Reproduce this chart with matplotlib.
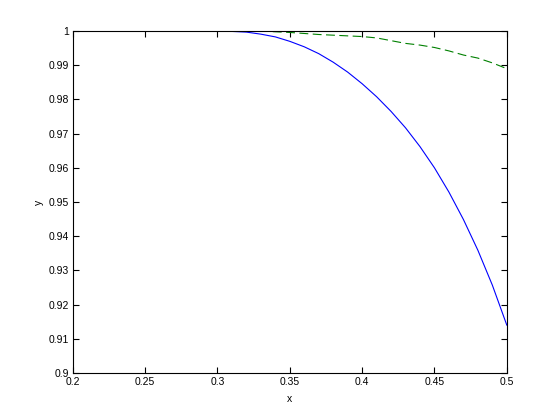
import matplotlib
matplotlib.use('Agg')
import matplotlib.pyplot as plt

# x grid and the two curves
x = [0.20, 0.21, 0.22, 0.23, 0.24, 0.25, 0.26, 0.27, 0.28, 0.29,
     0.30, 0.31, 0.32, 0.33, 0.34, 0.35, 0.36, 0.37, 0.38, 0.39,
     0.40, 0.41, 0.42, 0.43, 0.44, 0.45, 0.46, 0.47, 0.48, 0.49, 0.50]
y_blue = [1.0, 1.0, 1.0, 1.0, 1.0, 1.0, 1.0, 1.0, 1.0, 1.0,
          1.0, 0.9999, 0.9997, 0.9991, 0.9983, 0.9970, 0.9954, 0.9934, 0.9909, 0.9880,
          0.9846, 0.9808, 0.9765, 0.9717, 0.9662, 0.9600, 0.9529, 0.9449, 0.9359, 0.9257, 0.9140]
y_green = [1.0, 1.0, 1.0, 1.0, 1.0, 1.0, 1.0, 1.0, 1.0, 1.0,
           1.0, 1.0, 1.0, 1.0, 0.9998, 0.9996, 0.9993, 0.9990, 0.9988, 0.9986,
           0.9984, 0.9980, 0.9972, 0.9964, 0.9959, 0.9952, 0.9942, 0.9930, 0.9921, 0.9907, 0.9890]

xticks = [0.2, 0.25, 0.3, 0.35, 0.4, 0.45, 0.5]
xticklabels = ['0.2', '0.25', '0.3', '0.35', '0.4', '0.45', '0.5']
yticks = [0.9, 0.91, 0.92, 0.93, 0.94, 0.95, 0.96, 0.97, 0.98, 0.99, 1.0]
yticklabels = ['0.9', '0.91', '0.92', '0.93', '0.94', '0.95', '0.96', '0.97', '0.98', '0.99', '1']

plt.rcParams['font.family'] = ['Liberation Sans', 'DejaVu Sans']

fig = plt.figure(figsize=(5.6, 4.2), dpi=100)
ax = fig.add_axes([0.130, 0.112, 0.775, 0.814])

ax.plot(x, y_blue, color=(0, 0, 1), lw=0.8)
ax.plot(x, y_green, color=(0, 0.5, 0), lw=0.8, dashes=(8, 4))

ax.set_xlim(0.2, 0.5)
ax.set_ylim(0.9, 1.0)
ax.set_xticks(xticks)
ax.set_xticklabels(xticklabels)
ax.set_yticks(yticks)
ax.set_yticklabels(yticklabels)
ax.tick_params(direction='in', length=4, width=0.8, labelsize=7.5,
               top=True, right=True, pad=3)
for s in ax.spines.values():
    s.set_linewidth(0.8)

ax.set_xlabel('x', fontsize=7.5, labelpad=5)
ax.set_ylabel('y', fontsize=7.5, labelpad=3)

fig.savefig('out.png', dpi=100)
